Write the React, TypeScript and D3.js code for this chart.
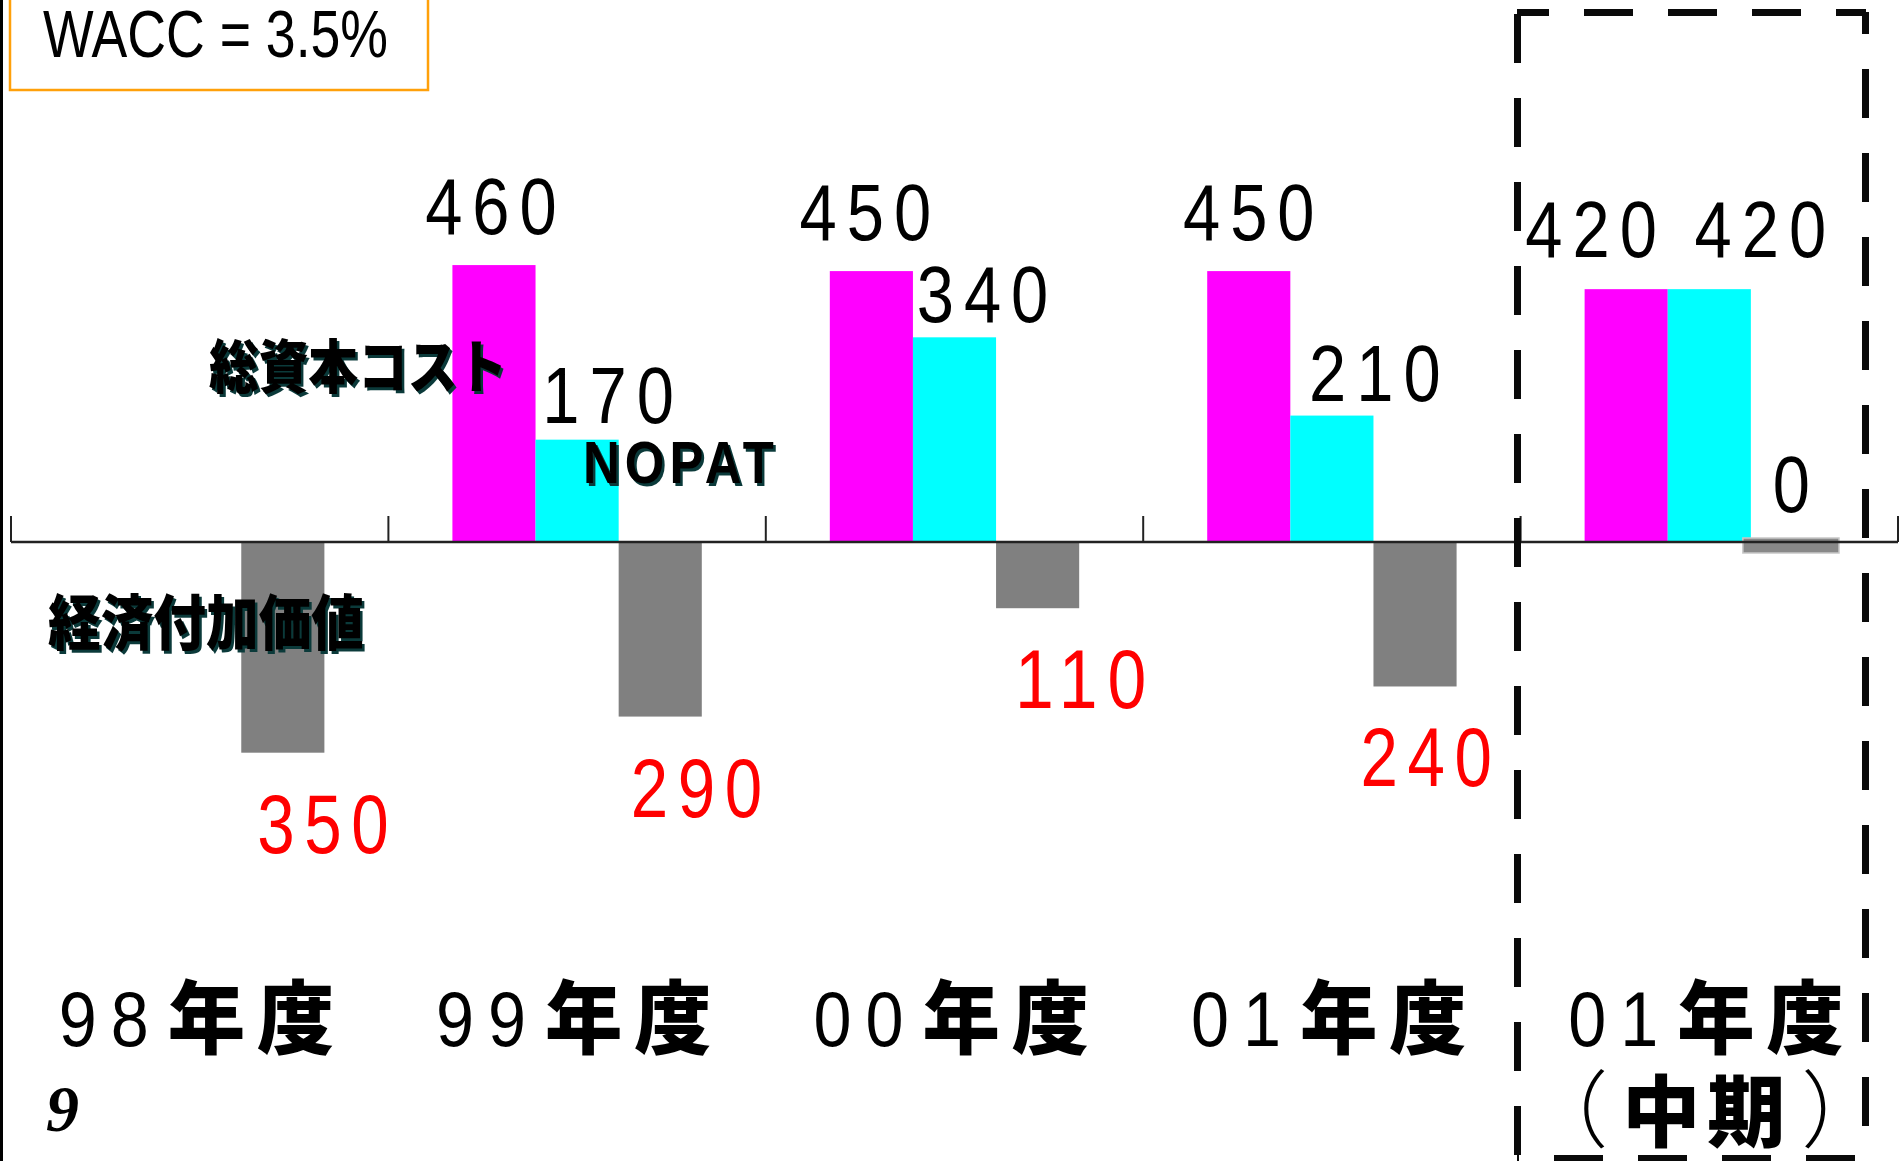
import React from "react";
import * as d3 from "d3";

// ---------- data ----------
const categories = ["98年度", "99年度", "00年度", "01年度", "01年度（中期）"];
const capitalCost: (number | null)[] = [null, 460, 450, 450, 420];
const nopat: (number | null)[] = [null, 170, 340, 210, 420];
const eva: number[] = [-350, -290, -110, -240, 0];
const seriesNames = ["総資本コスト", "NOPAT", "経済付加価値"];
const seriesKeys = ["cost", "nopat", "eva"];
const waccLabel = "WACC = 3.5%";
const pageNumber = "9";

// ---------- layout (label nudges, not data) ----------
const costLabelNudge: ([number, number] | null)[] = [null, [2, -31], [-1, -31], [5, -31], [-30, -32]];
const nopatLabelNudge: ([number, number] | null)[] = [null, [36, -17], [33, -15], [48, -15], [56, -32]];
const evaLabelNudge: [number, number][] = [[45, 100], [41, 100], [48, 100], [16, 100], [4, -30]];

const W = 1901;
const H = 1161;
const COLORS = { cost: "#FF00FF", nopat: "#00FFFF", eva: "#808080" };
const SANS = "'Liberation Sans', Arial, Helvetica, sans-serif";
const CJK = "'Noto Sans CJK JP', 'Noto Sans CJK SC', sans-serif";

function Shadowed(props: { x: number; y: number; text: string; size: number; len: number; family: string; weight: number | string; ls?: number }) {
  const { x, y, text, size, len, family, weight, ls = 0 } = props;
  const common = {
    fontSize: size,
    fontFamily: family,
    fontWeight: weight as any,
    letterSpacing: ls,
    textLength: len,
    lengthAdjust: "spacingAndGlyphs" as any,
  };
  return (
    <g>
      <text x={x + 2.5} y={y + 2.5} fill="#0b3a3a" {...common}>{text}</text>
      <text x={x} y={y} fill="#000" {...common}>{text}</text>
    </g>
  );
}

export default function App() {
  const x = d3.scaleBand<string>().domain(categories).range([11, 1898]).paddingInner(0).paddingOuter(0);
  const xs = d3.scaleBand<string>().domain(seriesKeys).range([0, x.bandwidth()]).paddingInner(0).paddingOuter(0.77);
  const y = d3.scaleLinear().domain([0, 100]).range([542, 542 - 60.2]);
  const bw = xs.bandwidth();
  const y0 = y(0);

  const tickXs = [...categories.map((c) => x(c) as number), x.range()[1]];

  const valueLabel = (v: number, cx: number, yy: number, color: string, size: number, key: string) => {
    const s = String(Math.abs(v));
    return (
      <text
        key={key}
        x={cx}
        y={yy}
        textAnchor="middle"
        fontSize={size}
        fontFamily={SANS}
        fill={color}
        letterSpacing={12}
        textLength={s.length * (size * (size > 80 ? 0.56 : 0.59))}
        lengthAdjust="spacingAndGlyphs"
      >
        {s}
      </text>
    );
  };

  return (
    <svg width={W} height={H} style={{ position: "absolute", left: 0, top: 0, display: "block", background: "#fff" }}>
      <rect x={0} y={0} width={W} height={H} fill="#fff" />
      {/* left border */}
      <rect x={0} y={0} width={3} height={H} fill="#000" />

      {/* WACC box */}
      <rect x={10} y={-6} width={418} height={96} fill="none" stroke="#FFA00A" strokeWidth={2.5} />
      <text x={43} y={57} fontSize={66} fontFamily={SANS} fill="#000" textLength={345} lengthAdjust="spacingAndGlyphs">
        {waccLabel}
      </text>

      {/* bars */}
      {categories.map((c, i) => {
        const bx = x(c) as number;
        const out: any[] = [];
        const cv = capitalCost[i];
        if (cv != null) {
          out.push(<rect key="c" x={bx + (xs("cost") as number)} y={y(cv)} width={bw} height={y0 - y(cv)} fill={COLORS.cost} />);
        }
        const nv = nopat[i];
        if (nv != null) {
          out.push(<rect key="n" x={bx + (xs("nopat") as number)} y={y(nv)} width={bw} height={y0 - y(nv)} fill={COLORS.nopat} />);
        }
        const ev = eva[i];
        if (ev !== 0) {
          out.push(<rect key="e" x={bx + (xs("eva") as number)} y={y0} width={bw} height={y(ev) - y0} fill={COLORS.eva} />);
        } else {
          // zero value drawn as a thin marker bar
          out.push(
            <rect key="e0" x={bx + (xs("eva") as number) - 8} y={y0 - 4} width={bw + 13} height={15} fill="#888" stroke="#c8c8c8" strokeWidth={1.5} />
          );
        }
        return <g key={c}>{out}</g>;
      })}

      {/* axis */}
      <line x1={x.range()[0]} x2={x.range()[1]} y1={y0} y2={y0} stroke="#222" strokeWidth={2.5} />
      {tickXs.map((tx, i) => (
        <line key={i} x1={tx} x2={tx} y1={y0 - 26} y2={y0} stroke="#222" strokeWidth={2} />
      ))}

      {/* value labels */}
      {categories.map((c, i) => {
        const bx = x(c) as number;
        const out: any[] = [];
        const cv = capitalCost[i];
        const cn = costLabelNudge[i];
        if (cv != null && cn) {
          out.push(valueLabel(cv, bx + (xs("cost") as number) + bw / 2 + cn[0], y(cv) + cn[1], "#000", 80, "cl"));
        }
        const nv = nopat[i];
        const nn = nopatLabelNudge[i];
        if (nv != null && nn) {
          out.push(valueLabel(nv, bx + (xs("nopat") as number) + bw / 2 + nn[0], y(nv) + nn[1], "#000", 80, "nl"));
        }
        const ev = eva[i];
        const en = evaLabelNudge[i];
        out.push(
          valueLabel(ev, bx + (xs("eva") as number) + bw / 2 + en[0], y(Math.min(ev, 0)) + en[1], ev < 0 ? "#FF0000" : "#000", ev < 0 ? 84 : 80, "el")
        );
        return <g key={"l" + c}>{out}</g>;
      })}

      {/* series annotations */}
      <Shadowed x={209} y={388} text={seriesNames[0]} size={58} len={298} family={CJK} weight={900} />
      <Shadowed x={583} y={483} text={seriesNames[1]} size={60} len={196} family={SANS} weight={700} ls={6} />
      <Shadowed x={48} y={645} text={seriesNames[2]} size={60} len={316} family={CJK} weight={900} />

      {/* category labels */}
      {categories.map((c) => {
        const cx = (x(c) as number) + x.bandwidth() / 2 - 5;
        const yr = c.slice(0, 2);
        const kan = c.slice(2, 4);
        const sub = Array.from(c.slice(4));
        // per-character offsets of the second line: ( 中 期 )
        const subDx = [-96, -43, 42, 97];
        const subAnchor = ["end", "middle", "middle", "start"];
        return (
          <g key={"cat" + c}>
            <text x={cx - 136} y={1046} fontSize={78} fontFamily={SANS} fill="#000" letterSpacing={16} textLength={104} lengthAdjust="spacingAndGlyphs">
              {yr}
            </text>
            <text x={cx - 27} y={1047} fontSize={80} fontFamily={CJK} fontWeight={900} fill="#000" letterSpacing={12} textLength={178} lengthAdjust="spacingAndGlyphs">
              {kan}
            </text>
            {sub.map((ch, k) => (
              <text
                key={k}
                x={cx + subDx[k]}
                y={1141}
                textAnchor={subAnchor[k] as any}
                fontSize={k === 0 || k === 3 ? 84 : 78}
                fontFamily={CJK}
                fontWeight={k === 0 || k === 3 ? 300 : 900}
                fill="#000"
              >
                {ch}
              </text>
            ))}
          </g>
        );
      })}

      {/* page number */}
      <text x={46} y={1131} fontSize={66} fontFamily="'Liberation Serif', 'Times New Roman', serif" fontStyle="italic" fontWeight={700} fill="#000">
        {pageNumber}
      </text>

      {/* dashed box around interim period */}
      <g stroke="#0a0a0a" strokeWidth={7} strokeDasharray="49 35" fill="none">
        <line x1={1517} x2={1866} y1={12.5} y2={12.5} strokeDashoffset={17} />
        <line x1={1517.5} x2={1517.5} y1={12} y2={H} strokeDashoffset={-2} />
        <line x1={1865.5} x2={1865.5} y1={12} y2={H} strokeDashoffset={27} />
        <line x1={1517} x2={1866} y1={1158.5} y2={1158.5} strokeDashoffset={47} />
      </g>
    </svg>
  );
}
